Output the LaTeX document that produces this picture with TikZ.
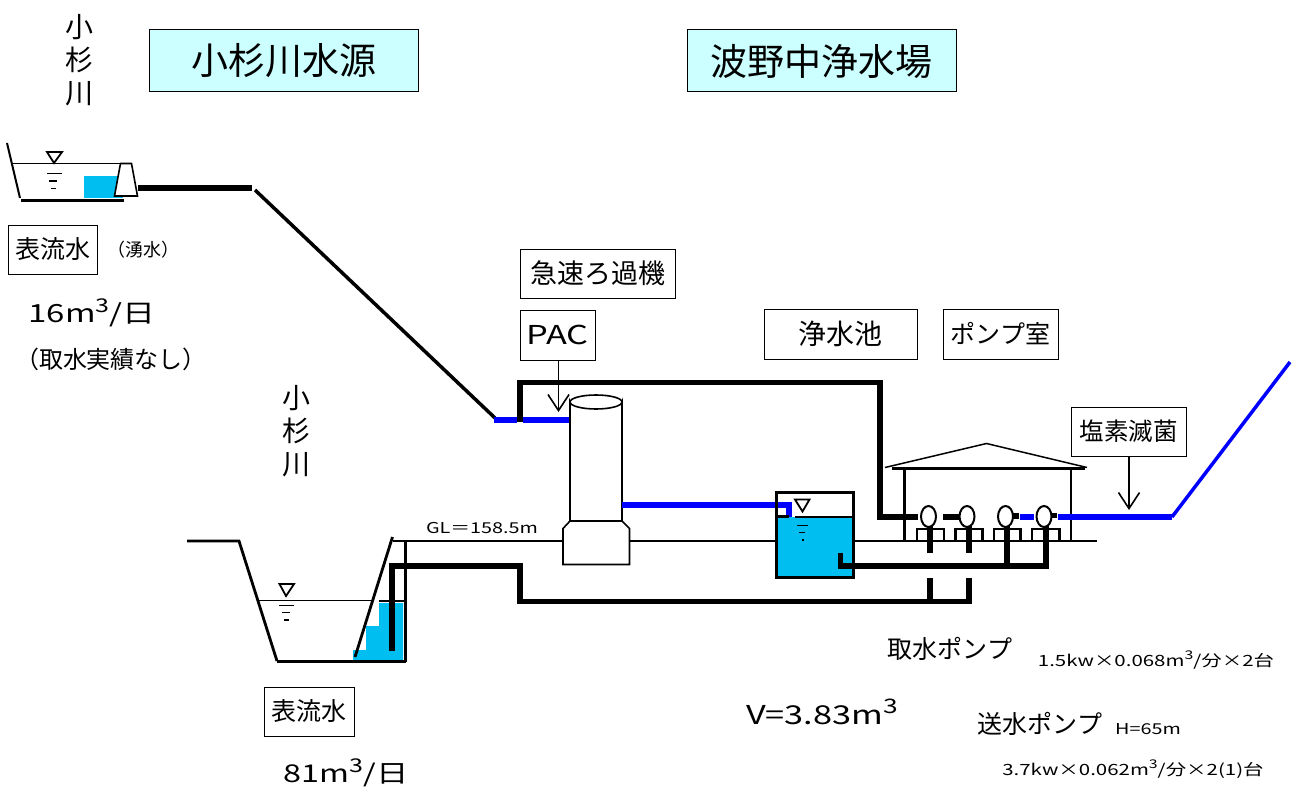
\documentclass[tikz,border=0pt]{standalone}
\usepackage{fontspec}
\setmainfont{Noto Sans CJK JP}
\newfontfamily\widefont[FakeStretch=1.32]{Noto Sans CJK JP}
\usetikzlibrary{arrows.meta}
\definecolor{watercol}{RGB}{0,190,240}
\definecolor{titlecol}{RGB}{204,255,255}
\def\cube#1{\raisebox{.42em}{\fontsize{#1}{#1}\selectfont 3}}
\tikzset{
    labelbox/.style={draw,line width=1pt,inner sep=0pt,align=center},
    sz/.style={font=\fontsize{#1}{#1}\selectfont,inner sep=0pt},
    widesz/.style={font=\widefont\fontsize{#1}{#1}\selectfont,inner sep=0pt},
    pipe/.style={line width=5.5pt,miter limit=10},
    bluepipe/.style={line width=5.5pt,blue},
    ground/.style={line width=2.8pt},
    thinwater/.style={line width=1.6pt},
    feedarrow/.style={line width=1.6pt,-{Straight Barb[length=16pt,width=21pt,line width=1.6pt]}},
    pumpbody/.style={draw,fill=white,line width=2pt},
}
\begin{document}
\begin{tikzpicture}[x=1pt,y=-1pt]
    \useasboundingbox[fill=white] (0,0) rectangle (1298,789);
    % titles
    \node[labelbox,sz=37,fill=titlecol,minimum width=269pt,minimum height=62pt] (source) at (283.5,61) {小杉川水源};
    \node[labelbox,sz=37,fill=titlecol,minimum width=269pt,minimum height=62pt] (plant) at (821.5,61) {波野中浄水場};
    \node[sz=28,align=center] (riverup) at (79,60) {小\\[5pt]杉\\[5pt]川};
    \node[sz=28,align=center] (riverlow) at (296,431) {小\\[5pt]杉\\[5pt]川};

    % upper intake
    \fill[watercol] (84,176) rectangle (123,198);
    \draw[line width=2pt] (7,143) -- (20,198);
    \draw[thinwater] (13,163.5) -- (121,163.5);
    \draw[line width=3pt] (21,200) -- (124,200);
    \draw[line width=1.8pt] (47,152) -- (62,152) -- (54,163) -- cycle;
    \draw[thinwater] (47,173.5) -- (62,173.5);
    \draw[thinwater] (49,181) -- (57,181);
    \draw[thinwater] (51,188.5) -- (56,188.5);
    \draw[fill=white,line width=1.6pt] (120.5,163.5) -- (131.5,163.5) -- (137.5,196) -- (114.5,196) -- cycle;
    \draw[pipe] (138,188) -- (252,188);
    \draw[line width=3.5pt] (255,190) -- (495,418);

    % lower intake
    \fill[watercol] (353,650) -- (366,650) -- (366,626) -- (379,626) -- (379,603) -- (403,603) -- (403,661) -- (353,661) -- cycle;
    \draw[ground] (187,541) -- (239,541) -- (277,661);
    \draw[line width=3pt] (277,661.5) -- (406,661.5);
    \draw[ground] (355,657) -- (392.5,537);
    \draw[thinwater] (258,600.5) -- (372,600.5);
    \draw[ground] (379,601) -- (405,601);
    \draw[line width=1.8pt] (279.5,584) -- (294,584) -- (286,596) -- cycle;
    \draw[thinwater] (279,605.5) -- (294,605.5);
    \draw[thinwater] (282,612.5) -- (290,612.5);
    \draw[thinwater] (283.5,620) -- (288.5,620);
    \draw[line width=3pt] (405,541) -- (405,662);
    \draw[ground] (393,541) -- (563,541);
    \draw[ground] (629,541) -- (776,541);
    \draw[ground] (853,541) -- (1097,541);
    \draw[pipe] (392,651) -- (392,566) -- (520,566) -- (520,601.5) -- (969,601.5) -- (969,578);
    \draw[pipe] (930,601.5) -- (930,578);

    % filter
    \draw[bluepipe] (494,420) -- (517,420);
    \draw[bluepipe] (523,420) -- (570,420);
    \draw[pipe] (520,422) -- (520,382.5) -- (880,382.5) -- (880,517) -- (918,517);
    \draw[fill=white,line width=1.6pt] (570,521) -- (563,528.5) -- (563,564.5) -- (629.5,564.5) -- (629.5,528.5) -- (622,521) -- cycle;
    \draw[fill=white,line width=1.6pt] (570,521) -- (570,402) arc (180:0:26 and 7) -- (622,521) -- cycle;
    \draw[line width=1.6pt] (570,402) arc (180:360:26 and 7);

    % clear water tank
    \fill[watercol] (776,517) rectangle (853,577);
    \draw[bluepipe] (622,505) -- (789,505) -- (789,517);
    \draw[line width=3pt] (776,492) rectangle (853,577.5);
    \draw[line width=2.5pt] (776,516.5) -- (789,516.5);
    \draw[line width=2.5pt] (795,517) -- (853,517);
    \draw[line width=1.8pt] (795,499.5) -- (809.5,499.5) -- (802.5,511.5) -- cycle;
    \draw[thinwater] (797,525.5) -- (808,525.5);
    \draw[thinwater] (799,532.5) -- (805,532.5);
    \draw[thinwater] (802,540) -- (803.5,540);

    % pump house
    \draw[line width=1.5pt] (885,467.5) -- (986.5,443.5) -- (1087,467.5);
    \draw[line width=3pt] (892,468.5) -- (1085,468.5);
    \draw[ground] (904.5,468) -- (904.5,541);
    \draw[ground] (1071,468) -- (1071,541);
    \draw[pipe] (840.5,553) -- (840.5,566) -- (1046,566) -- (1046,525);
    \draw[pipe] (1007,566) -- (1007,525);
    \draw[pipe] (930,553) -- (930,525);
    \draw[pipe] (969,553) -- (969,525);
    \draw[ground] (917,541) -- (917,529) -- (944,529) -- (944,541);
    \draw[ground] (955.5,541) -- (955.5,529) -- (982.5,529) -- (982.5,541);
    \draw[ground] (994,541) -- (994,529) -- (1020.5,529) -- (1020.5,541);
    \draw[ground] (1032,541) -- (1032,529) -- (1059.5,529) -- (1059.5,541);
    \draw[pipe] (943,517) -- (960,517);
    \draw[pipe] (1013,516) -- (1019,516);
    \draw[bluepipe] (1020,517) -- (1034,517);
    \draw[pipe] (1051,515.5) -- (1057,515.5);
    \draw[bluepipe] (1058,517) -- (1172,517);
    \draw[blue,line width=3.5pt] (1172,517) -- (1290,362);
    \draw[pumpbody] (928.5,516.5) ellipse (7.5 and 10.5);
    \draw[pumpbody] (967,516.5) ellipse (7.5 and 10.5);
    \draw[pumpbody] (1005.5,516.5) ellipse (7.5 and 10.5);
    \draw[pumpbody] (1044,516.5) ellipse (7.5 and 10.5);

    % labels
    \node[labelbox,sz=25,fill=white,minimum width=89pt,minimum height=49pt] (surfaceup) at (52.5,249.5) {表流水};
    \node[sz=18] (spring) at (143,250) {（湧水）};
    \node[widesz=25] (flowup) at (92,313) {16m\cube{19}/日};
    \node[sz=24] (record) at (111,359) {（取水実績なし）};
    \node[labelbox,sz=27,fill=white,minimum width=155pt,minimum height=49pt] (filterbox) at (597.5,273.5) {急速ろ過機};
    \node[labelbox,widesz=26,fill=white,minimum width=75pt,minimum height=50pt] (pac) at (557.5,335) {PAC};
    \node[labelbox,sz=28,fill=white,minimum width=153pt,minimum height=50pt] (tankbox) at (840.5,334) {浄水池};
    \node[labelbox,sz=25,fill=white,minimum width=115pt,minimum height=50pt] (pumproom) at (1000.5,334) {ポンプ室};
    \node[labelbox,sz=24.5,fill=white,minimum width=115pt,minimum height=49pt] (chlorine) at (1128.5,431.5) {塩素滅菌};
    \node[labelbox,sz=25,fill=white,minimum width=90pt,minimum height=49pt] (surfacelow) at (309,711.5) {表流水};
    \node[widesz=24.5] (flowlow) at (346,773) {81m\cube{19}/日};
    \node[widesz=15] (gl) at (482,528) {GL＝158.5m};
    \node[sz=25] (intakepump) at (950,649) {取水ポンプ};
    \node[widesz=15.5] (intakespec) at (1156,660) {1.5kw×0.068m\cube{12}/分×2台};
    \node[widesz=26] (volume) at (822,712) {V=3.83m\cube{20}};
    \node[sz=25] (sendpump) at (1040,724) {送水ポンプ};
    \node[widesz=15] (head) at (1148,729) {H=65m};
    \node[widesz=15.5] (sendspec) at (1133,769) {3.7kw×0.062m\cube{12}/分×2(1)台};

    % dosing arrows
    \coordinate (pacpoint) at (558.5,412);
    \coordinate (clpoint) at (1129,510);
    \draw[feedarrow] (pac.south -| pacpoint) -- (pacpoint);
    \draw[feedarrow] (chlorine.south -| clpoint) -- (clpoint);
\end{tikzpicture}
\end{document}
